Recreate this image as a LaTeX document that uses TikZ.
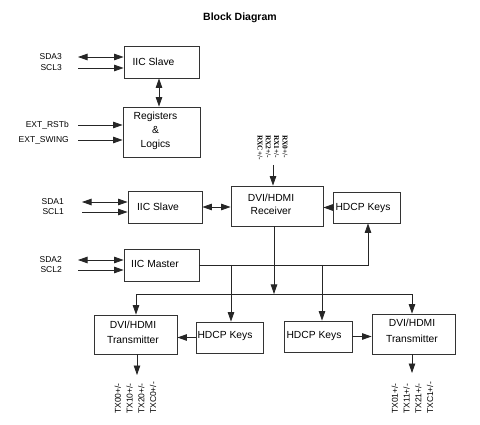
\documentclass[tikz,border=0pt]{standalone}
\usepackage{fontspec}
\setmainfont{Liberation Sans}
\newfontfamily\rxfont{Liberation Serif}
\usetikzlibrary{arrows.meta}
\begin{document}
\begin{tikzpicture}[x=1pt,y=-1pt,
  box/.style={draw=black!80, line width=0.8pt, rectangle, inner sep=0pt},
  btxt/.style={font=\fontsize{10.3}{13}\selectfont, align=center, inner sep=0pt},
  sig/.style={font=\fontsize{8.5}{10}\selectfont, inner sep=0pt, anchor=east},
  conn/.style={line width=0.8pt, draw=black!85},
  ar/.style={conn, -{Triangle[length=9.5pt,width=6.5pt]}},
  dar/.style={conn, {Triangle[length=9.5pt,width=6.5pt]}-{Triangle[length=9.5pt,width=6.5pt]}},
  txlab/.style={rotate=90, anchor=west, align=left, inner sep=0pt, font=\fontsize{8.5}{11.7}\selectfont},
  rxlab/.style={rotate=-90, anchor=west, align=left, inner sep=0pt, font=\rxfont\bfseries\fontsize{7.4}{8.3}\selectfont},
]
\useasboundingbox[fill=white] (0,0) rectangle (480,425);

\node[font=\bfseries\fontsize{10.5}{12}\selectfont, inner sep=0pt] (title) at (240,18) {Block Diagram};

% boxes
\node[box, minimum width=75pt, minimum height=32pt] (s3) at (161.5,62) {};
\node[btxt] (s3t) at (153.5,61.5) {IIC Slave};
\node[box, minimum width=77pt, minimum height=50pt] (regs) at (161.5,132) {};
\node[btxt, font=\fontsize{10.3}{14}\selectfont] (regst) at (155.5,131) {Registers\\\&\\Logics};
\node[box, minimum width=74pt, minimum height=32pt] (s1) at (165,207) {};
\node[btxt] (s1t) at (158,206.5) {IIC Slave};
\node[box, minimum width=75pt, minimum height=32pt] (mst) at (161.5,265) {};
\node[btxt] (mstt) at (155,264) {IIC Master};
\node[box, minimum width=92pt, minimum height=40pt] (rx) at (277,206) {};
\node[btxt] (rxt) at (271,204) {DVI/HDMI\\Receiver};
\node[box, minimum width=67pt, minimum height=31pt] (hkt) at (366.5,207.5) {};
\node[btxt] (hktt) at (363,208) {HDCP Keys};
\node[box, minimum width=83pt, minimum height=39pt] (txl) at (135.5,334.5) {};
\node[btxt, font=\fontsize{10.3}{15.5}\selectfont] (txlt) at (133,332.5) {DVI/HDMI\\Transmitter};
\node[box, minimum width=67pt, minimum height=31pt] (hkl) at (229.5,337.5) {};
\node[btxt] (hklt) at (225,335.5) {HDCP Keys};
\node[box, minimum width=68pt, minimum height=31pt] (hkr) at (318,336.5) {};
\node[btxt] (hkrt) at (314,335.5) {HDCP Keys};
\node[box, minimum width=83pt, minimum height=40pt] (txr) at (413.5,334) {};
\node[btxt, font=\fontsize{10.3}{15.5}\selectfont] (txrt) at (412,331) {DVI/HDMI\\Transmitter};

% signal labels
\node[sig] (lsda3) at (62,57) {SDA3};
\node[sig] (lscl3) at (62,68) {SCL3};
\node[sig] (lrst) at (69,125) {EXT\_RSTb};
\node[sig] (lswg) at (69,140) {EXT\_SWING};
\node[sig] (lsda1) at (64,202) {SDA1};
\node[sig] (lscl1) at (64,212) {SCL1};
\node[sig] (lsda2) at (62,260) {SDA2};
\node[sig] (lscl2) at (62,270) {SCL2};
\node[rxlab] (lrx) at (272.5,135) {RX0+/-\\RX1+/-\\RX2+/-\\RXC+/-};
\node[txlab] (ltx0) at (135.5,414) {TX00+/-\\TX10+/-\\TX20+/-\\TXC0+/-};
\node[txlab] (ltx1) at (412.5,414) {TX01+/-\\TX11+/-\\TX21+/-\\TXC1+/-};

% free ends
\coordinate (a1) at (78,57);
\coordinate (a2) at (78,68);
\coordinate (a3) at (78,125);
\coordinate (a4) at (78,140);
\coordinate (a5) at (82,202);
\coordinate (a6) at (82,212);
\coordinate (a7) at (78,260);
\coordinate (a8) at (78,270);
\coordinate (ri) at (273,165);
\coordinate (mj) at (368,265);
\coordinate (d1) at (231,265);
\coordinate (d2) at (322,265);
\coordinate (bj) at (274,294);
\coordinate (bl) at (136,294);
\coordinate (br) at (412,294);
\coordinate (o1) at (137,375);
\coordinate (o2) at (412,373);

% connectors
\draw[dar] (a1) -- (a1 -| s3.west);
\draw[ar] (a2) -- (a2 -| s3.west);
\draw[ar] (a3) -- (a3 -| regs.west);
\draw[ar] (a4) -- (a4 -| regs.west);
\draw[dar] ([xshift=-2.5pt]s3.south) -- ([xshift=-2.5pt]regs.north);
\draw[dar] (a5) -- (a5 -| s1.west);
\draw[ar] (a6) -- (a6 -| s1.west);
\draw[dar] (a7) -- (a7 -| mst.west);
\draw[ar] (a8) -- (a8 -| mst.west);
\draw[dar] (s1.east) -- (s1.east -| rx.west);
\draw[ar] (hkt.west) -- (hkt.west -| rx.east);
\draw[ar] (ri) -- (ri |- rx.north);
\draw[ar] (mst.east) -- (mj) -- (mj |- hkt.south);
\draw[ar] (d1) -- (d1 |- hkl.north);
\draw[ar] (d2) -- (d2 |- hkr.north);
\draw[ar] (rx.south -| bj) -- (bj);
\draw[dar] (bl |- txl.north) -- (bl) -- (br) -- (br |- txr.north);
\draw[ar] (hkl.west) -- (hkl.west -| txl.east);
\draw[ar] (hkr.east) -- (hkr.east -| txr.west);
\draw[ar] (txl.south -| o1) -- (o1);
\draw[ar] (txr.south -| o2) -- (o2);
\end{tikzpicture}
\end{document}
